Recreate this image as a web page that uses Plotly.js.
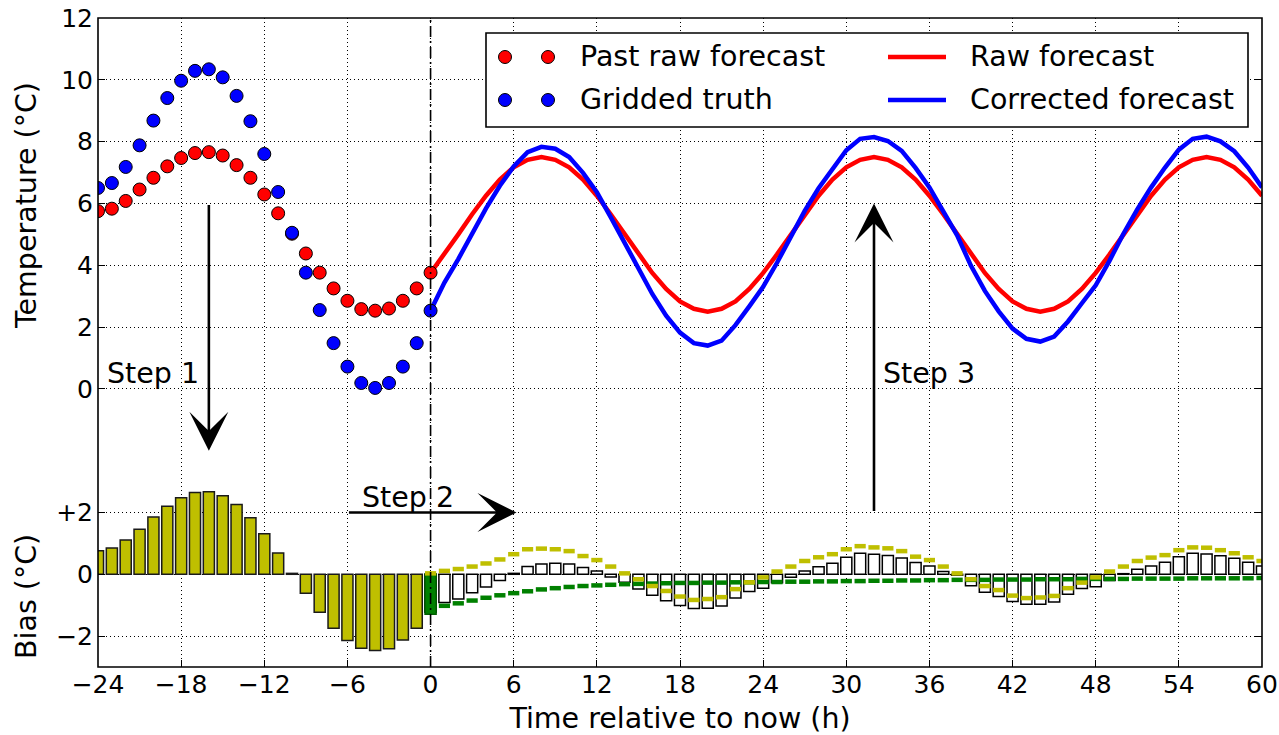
<!DOCTYPE html>
<html>
<head>
<meta charset="utf-8">
<script src="https://cdn.plot.ly/plotly-3.0.1.min.js"></script>
<style>html,body{margin:0;padding:0;background:#fff;}#chart{width:1279px;height:735px;}</style>
</head>
<body>
<div id="chart"></div>
<script>
// ---- data ----
var pastHours = [-24,-23,-22,-21,-20,-19,-18,-17,-16,-15,-14,-13,-12,-11,-10,-9,-8,-7,-6,-5,-4,-3,-2,-1,0];
var pastRaw = [5.75,5.83,6.08,6.45,6.83,7.20,7.47,7.63,7.66,7.55,7.24,6.83,6.29,5.68,5.02,4.38,3.76,3.25,2.85,2.58,2.53,2.60,2.85,3.25,3.76];
var griddedTruth = [6.50,6.66,7.18,7.88,8.68,9.41,9.97,10.29,10.34,10.08,9.48,8.66,7.60,6.37,5.05,3.76,2.55,1.48,0.72,0.19,0.03,0.19,0.72,1.48,2.53];
var pastBias = [0.76,0.85,1.11,1.46,1.85,2.20,2.48,2.65,2.67,2.54,2.26,1.83,1.31,0.69,0.03,-0.61,-1.23,-1.75,-2.14,-2.39,-2.47,-2.41,-2.13,-1.75,-1.23];

var futureHours = [0,1,2,3,4,5,6,7,8,9,10,11,12,13,14,15,16,17,18,19,20,21,22,23,24,25,26,27,28,29,30,31,32,33,34,35,36,37,38,39,40,41,42,43,44,45,46,47,48,49,50,51,52,53,54,55,56,57,58,59,60];
var rawForecast = [3.75,4.35,5.00,5.65,6.25,6.77,7.17,7.41,7.50,7.41,7.17,6.77,6.25,5.65,5.00,4.35,3.75,3.23,2.83,2.59,2.50,2.59,2.83,3.23,3.75,4.35,5.00,5.65,6.25,6.77,7.17,7.41,7.50,7.41,7.17,6.77,6.25,5.65,5.00,4.35,3.75,3.23,2.83,2.59,2.50,2.59,2.83,3.23,3.75,4.35,5.00,5.65,6.25,6.77,7.17,7.41,7.50,7.41,7.17,6.77,6.25];
var correctedForecast = [2.53,3.44,4.20,5.05,5.84,6.57,7.20,7.66,7.83,7.77,7.50,6.99,6.36,5.56,4.74,3.87,3.07,2.37,1.82,1.48,1.40,1.56,2.06,2.67,3.30,4.08,4.90,5.76,6.49,7.13,7.72,8.09,8.15,8.02,7.70,7.15,6.52,5.74,4.97,3.98,3.17,2.51,1.95,1.62,1.53,1.69,2.18,2.77,3.35,4.15,5.02,5.81,6.52,7.16,7.74,8.09,8.16,8.01,7.69,7.16,6.52];
var correctionBias = [-1.22,-0.91,-0.80,-0.60,-0.41,-0.20,0.03,0.25,0.33,0.36,0.33,0.22,0.11,-0.09,-0.26,-0.48,-0.68,-0.86,-1.01,-1.11,-1.10,-1.03,-0.77,-0.56,-0.45,-0.27,-0.10,0.11,0.24,0.36,0.55,0.68,0.65,0.61,0.53,0.38,0.27,0.09,-0.03,-0.37,-0.58,-0.72,-0.88,-0.97,-0.97,-0.90,-0.65,-0.46,-0.40,-0.20,0.02,0.16,0.27,0.39,0.57,0.68,0.66,0.60,0.52,0.39,0.27];
var diurnalBias = [0.03,0.11,0.17,0.25,0.35,0.48,0.65,0.81,0.83,0.81,0.75,0.59,0.46,0.25,0.03,-0.16,-0.38,-0.54,-0.72,-0.83,-0.80,-0.74,-0.48,-0.26,-0.10,0.09,0.25,0.43,0.55,0.65,0.81,0.91,0.87,0.84,0.75,0.57,0.46,0.25,0.03,-0.16,-0.38,-0.51,-0.69,-0.77,-0.75,-0.70,-0.45,-0.27,-0.10,0.09,0.25,0.43,0.54,0.62,0.78,0.87,0.86,0.78,0.68,0.55,0.43];
var persistBias = [-1.29,-1.02,-0.94,-0.85,-0.76,-0.68,-0.61,-0.55,-0.49,-0.45,-0.41,-0.38,-0.36,-0.34,-0.32,-0.31,-0.30,-0.29,-0.28,-0.28,-0.27,-0.27,-0.26,-0.26,-0.25,-0.25,-0.24,-0.24,-0.23,-0.23,-0.22,-0.22,-0.21,-0.21,-0.20,-0.20,-0.19,-0.19,-0.18,-0.18,-0.18,-0.17,-0.17,-0.17,-0.16,-0.16,-0.16,-0.15,-0.15,-0.15,-0.15,-0.14,-0.14,-0.14,-0.14,-0.13,-0.13,-0.13,-0.13,-0.13,-0.12];

var tempTicks = [0,2,4,6,8,10,12];
var biasTicks = [-2,0,2];
var biasTickText = ['\u22122','0','+2'];
var legendLabels = ['Past raw forecast','Gridded truth','Raw forecast','Corrected forecast'];

// ---- styling ----
var FONT = 'DejaVu Sans, Bitstream Vera Sans, sans-serif';
var OLIVE = '#bfbf00', GREEN = '#008000', RED = '#ff0000', BLUE = '#0000ff';
var BW = 0.8;
var DASH = 8; // line-ew marker size (drawn ~1.4x long)

var traces = [
  {type:'bar', x:pastHours, y:pastBias, xaxis:'x', yaxis:'y2', width:BW,
   marker:{color:OLIVE, line:{color:'#1a1a1a', width:1.5}}, name:'Past bias'},
  {type:'bar', x:futureHours, y:correctionBias, xaxis:'x', yaxis:'y2', width:BW,
   marker:{color:'#ffffff', line:{color:'#000000', width:1.5}}, name:'Bias correction'},
  {type:'bar', x:futureHours.slice(0,1), y:persistBias.slice(0,1), xaxis:'x', yaxis:'y2', width:BW,
   marker:{color:GREEN, line:{color:'#006000', width:1.5}}, name:'Persistent bias (now)'},
  {type:'scatter', mode:'markers', x:futureHours.slice(1), y:persistBias.slice(1), xaxis:'x', yaxis:'y2',
   marker:{symbol:'line-ew', size:DASH, line:{color:GREEN, width:4.5}}, name:'Persistent bias'},
  {type:'scatter', mode:'markers', x:futureHours, y:diurnalBias, xaxis:'x', yaxis:'y2',
   marker:{symbol:'line-ew', size:DASH, line:{color:OLIVE, width:4.5}}, name:'Diurnal bias'},
  {type:'scatter', mode:'lines', x:futureHours, y:rawForecast, xaxis:'x', yaxis:'y',
   line:{color:RED, width:4.5}, name:legendLabels[2]},
  {type:'scatter', mode:'lines', x:futureHours, y:correctedForecast, xaxis:'x', yaxis:'y',
   line:{color:BLUE, width:4.5}, name:legendLabels[3]},
  {type:'scatter', mode:'markers', x:pastHours, y:pastRaw, xaxis:'x', yaxis:'y',
   marker:{color:RED, size:13, line:{color:'#000', width:1}}, name:legendLabels[0]},
  {type:'scatter', mode:'markers', x:pastHours, y:griddedTruth, xaxis:'x', yaxis:'y',
   marker:{color:BLUE, size:13, line:{color:'#000', width:1}}, name:legendLabels[1]}
];

// pixel -> paper helpers for layout decorations
var L = 98, T = 18, W = 1164, H = 649;
function px(x){ return (x - L) / W; }
function py(y){ return (T + H - y) / H; }

var grid = {showgrid:true, gridcolor:'#000000', gridwidth:1, griddash:'1px,3px', zeroline:false, showline:false,
            ticks:'inside', ticklen:7, tickwidth:1, tickcolor:'#000'};

var shapes = [
  {type:'line', xref:'x', yref:'paper', x0:0, x1:0, y0:0, y1:1, layer:'above',
   line:{color:'#000', width:1.6, dash:'11px,4px,2px,4px'}},
  {type:'rect', xref:'paper', yref:'paper', x0:0, x1:1, y0:0, y1:1, layer:'above',
   line:{color:'#000', width:1.6}, fillcolor:'rgba(0,0,0,0)'},
  // legend box
  {type:'rect', xref:'paper', yref:'paper', x0:px(486), x1:px(1248), y0:py(127), y1:py(33), layer:'above',
   line:{color:'#000', width:1.6}, fillcolor:'#ffffff'}
];
function dot(cx, cy, col){
  return {type:'circle', xref:'paper', yref:'paper', xsizemode:'pixel', ysizemode:'pixel',
          xanchor:px(cx), yanchor:py(cy), x0:-6.5, x1:6.5, y0:-6.5, y1:6.5, layer:'above',
          fillcolor:col, line:{color:'#000', width:1}};
}
shapes.push(dot(505,57,RED), dot(548,57,RED), dot(505,100,BLUE), dot(548,100,BLUE));
shapes.push({type:'line', xref:'paper', yref:'paper', x0:px(888), x1:px(946), y0:py(57), y1:py(57), layer:'above', line:{color:RED, width:4.5}});
shapes.push({type:'line', xref:'paper', yref:'paper', x0:px(888), x1:px(946), y0:py(100), y1:py(100), layer:'above', line:{color:BLUE, width:4.5}});

var TF = {family:FONT, size:28.5, color:'#000'};
function txt(x, y, s, extra){
  return Object.assign({xref:'paper', yref:'paper', x:x, y:y, text:s, showarrow:false, font:TF,
                        xanchor:'center', yanchor:'middle'}, extra || {});
}
var annotations = [
  txt(px(26), py(206), 'Temperature (°C)', {textangle:-90}),
  txt(px(26), py(597), 'Bias (°C)', {textangle:-90}),
  txt(px(578), py(57), legendLabels[0], {xanchor:'left'}),
  txt(px(578), py(100), legendLabels[1], {xanchor:'left'}),
  txt(px(968), py(57), legendLabels[2], {xanchor:'left'}),
  txt(px(968), py(100), legendLabels[3], {xanchor:'left'}),
  {xref:'x', yref:'y', x:-20, y:0.5, text:'Step 1', showarrow:false, font:TF, xanchor:'center', yanchor:'middle'},
  {xref:'x', yref:'y2', x:-1.6, y:2.5, text:'Step 2', showarrow:false, font:TF, xanchor:'center', yanchor:'middle'},
  {xref:'x', yref:'y', x:36, y:0.5, text:'Step 3', showarrow:false, font:TF, xanchor:'center', yanchor:'middle'},
  {xref:'x', yref:'y', x:-16, y:-2, axref:'x', ayref:'y', ax:-16, ay:6, text:'', showarrow:true,
   arrowhead:3, arrowsize:2.5, arrowwidth:2.6, arrowcolor:'#000', standoff:0},
  {xref:'x', yref:'y2', x:6.2, y:2, axref:'x', ayref:'y2', ax:-6, ay:2, text:'', showarrow:true,
   arrowhead:3, arrowsize:2.5, arrowwidth:2.6, arrowcolor:'#000', standoff:0},
  {xref:'x', yref:'y', x:32, y:6, axref:'x', ayref:'y', ax:32, ay:-4, text:'', showarrow:true,
   arrowhead:3, arrowsize:2.5, arrowwidth:2.6, arrowcolor:'#000', standoff:0}
];

var layout = {
  width:1279, height:735,
  margin:{l:L, r:1279-L-W, t:T, b:735-T-H, pad:0},
  paper_bgcolor:'#fff', plot_bgcolor:'#fff',
  font:{family:FONT, size:25, color:'#000'},
  showlegend:false, barmode:'overlay', hovermode:false,
  xaxis:Object.assign({}, grid, {range:[-24,60], tick0:0, dtick:6, anchor:'y2',
        tickfont:{family:FONT, size:25},
        title:{text:'Time relative to now (h)', font:TF, standoff:11}}),
  xaxis2:{overlaying:'x', anchor:'y', side:'top', range:[-24,60], tick0:0, dtick:6,
        ticks:'inside', ticklen:7, tickcolor:'#000', showticklabels:false, showgrid:false, zeroline:false, showline:false},
  yaxis:Object.assign({}, grid, {domain:[6/21,1], range:[-3,12], tickmode:'array', tickvals:tempTicks,
        mirror:'ticks', tickfont:{family:FONT, size:25}, ticklabelstandoff:4}),
  yaxis2:Object.assign({}, grid, {domain:[0,6/21], range:[-3,3], tickmode:'array', tickvals:biasTicks, ticktext:biasTickText,
        mirror:'ticks', tickfont:{family:FONT, size:25}, ticklabelstandoff:4}),
  shapes:shapes,
  annotations:annotations
};

Plotly.newPlot('chart', traces, layout, {staticPlot:true, displayModeBar:false});
</script>
</body>
</html>
